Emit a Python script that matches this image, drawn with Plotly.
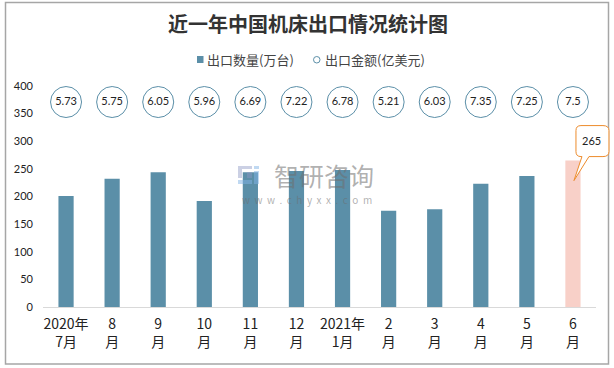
import plotly.graph_objects as go

categories = ["2020年<br>7月", "8<br>月", "9<br>月", "10<br>月", "11<br>月", "12<br>月",
              "2021年<br>1月", "2<br>月", "3<br>月", "4<br>月", "5<br>月", "6<br>月"]
quantity = [201, 232, 244, 192, 244, 246, 248, 174, 177, 223, 237, 265]
amount = [5.73, 5.75, 6.05, 5.96, 6.69, 7.22, 6.78, 5.21, 6.03, 7.35, 7.25, 7.5]
bubble_row = [371] * 12
y_ticks = [0, 50, 100, 150, 200, 250, 300, 350, 400]

W, H = 614, 368
L, R, T, B = 43, 18, 86, 61
FONT = "Noto Sans CJK SC"
NUM = "Lato, Noto Sans CJK SC"
idx = list(range(12))
BAR = "#5b8fa8"


def px(x):
    return (x - L) / (W - L - R)


def py(y):
    return 1 - (y - T) / (H - T - B)


def prect(x0, x1, y0, y1, color):
    return dict(type="rect", xref="paper", yref="paper", x0=px(x0), x1=px(x1), y0=py(y1), y1=py(y0),
                fillcolor=color, line_width=0)


fig = go.Figure()
fig.add_bar(x=idx, y=quantity, width=0.33, name="出口数量(万台)",
            marker=dict(color=[BAR] * 11 + ["#f8d0c8"], line_width=0))
fig.add_scatter(x=idx, y=bubble_row, mode="markers+text", name="出口金额(亿美元)",
                text=[str(v) for v in amount], textposition="middle center",
                textfont=dict(size=11, color="#222", family=NUM),
                marker=dict(size=31, color="white", line=dict(color=BAR, width=1)))

LOGO_A = "rgba(140,150,195,0.45)"
LOGO_B = "rgba(130,180,230,0.5)"
shapes = [
    dict(type="rect", xref="paper", yref="paper", x0=px(5.5), x1=px(608.5), y0=py(364), y1=py(2.5),
         line=dict(color="#a6a6a6", width=1.5), layer="below"),
    # callout anchored on the last bar (pixel offsets, y upward); paper refs so it is not clipped
    dict(type="path", xref="paper", yref="paper", xsizemode="pixel", ysizemode="pixel",
         xanchor=(idx[-1] + 0.5) / 12, yanchor=quantity[-1] / 400,
         path="M 1 -20 L 9 4 L 8 4 Q 3 4 3 9 L 3 30 Q 3 35 8 35 L 30 35 Q 36 35 36 30 "
              "L 36 9 Q 36 4 30 4 L 16 4 Z",
         line=dict(color="#ed8b2b", width=1), fillcolor="white"),
    # watermark logo
    prect(238, 252, 166, 169, LOGO_A),
    prect(238, 242, 169, 178, LOGO_A),
    prect(247, 252, 172, 178, LOGO_A),
    prect(238, 252, 180, 184, LOGO_B),
    prect(254, 259, 166, 169, LOGO_B),
    prect(254, 259, 171, 184, LOGO_B),
    # legend keys
    prect(197, 203.5, 56, 63, BAR),
    dict(type="circle", xref="paper", yref="paper", x0=px(313.5), x1=px(320), y0=py(63), y1=py(56.5),
         line=dict(color=BAR, width=1), fillcolor="white"),
]

SP = "\u00a0\u00a0"
annotations = [
    dict(x=11, y=quantity[-1], xref="x", yref="y", text=str(quantity[-1]), showarrow=False,
         xshift=18.5, yshift=20, font=dict(size=11, color="#222", family=NUM)),
    dict(x=px(323.5), y=py(174.5), xref="paper", yref="paper", xanchor="center", yanchor="middle",
         text="智研咨询", showarrow=False,
         font=dict(size=25, color="rgba(110,110,110,0.55)", family=FONT)),
    dict(x=px(307), y=py(199), xref="paper", yref="paper", xanchor="center", yanchor="middle", showarrow=False,
         text=SP.join("www.chyxx.com"),
         font=dict(size=10, color="rgba(110,110,110,0.55)", family=FONT)),
    dict(x=px(205), y=py(59.5), xref="paper", yref="paper", xanchor="left", yanchor="middle",
         text="出口数量(万台)", showarrow=False,
         font=dict(size=13, color="#444", family=FONT)),
    dict(x=px(322.5), y=py(59.5), xref="paper", yref="paper", xanchor="left", yanchor="middle",
         text="出口金额(亿美元)", showarrow=False,
         font=dict(size=13, color="#444", family=FONT)),
]

fig.update_layout(
    width=W, height=H, margin=dict(l=L, r=R, t=T, b=B),
    paper_bgcolor="white", plot_bgcolor="white", autosize=False, showlegend=False,
    font=dict(family=FONT, size=12, color="#333"),
    title=dict(text="近一年中国机床出口情况统计图", x=308 / W, xanchor="center", y=1 - 25 / H, yanchor="middle",
               font=dict(size=20, color="#333", family=FONT, weight="bold")),
    xaxis=dict(tickmode="array", tickvals=idx, ticktext=categories, range=[-0.5, 11.5],
               showgrid=False, showline=True, linecolor="#d9d9d9", linewidth=1, ticks="", tickangle=0,
               tickfont=dict(size=14, color="#222", family=FONT), ticklabelstandoff=4),
    yaxis=dict(range=[0, 400], tickmode="array", tickvals=y_ticks, showgrid=False, zeroline=False,
               showline=False, ticks="", tickfont=dict(size=11, color="#222", family=NUM), ticklabelstandoff=9),
    shapes=shapes, annotations=annotations,
)
fig.write_html("out.html", config={"displayModeBar": False}, post_script="document.body.style.margin='0';")
